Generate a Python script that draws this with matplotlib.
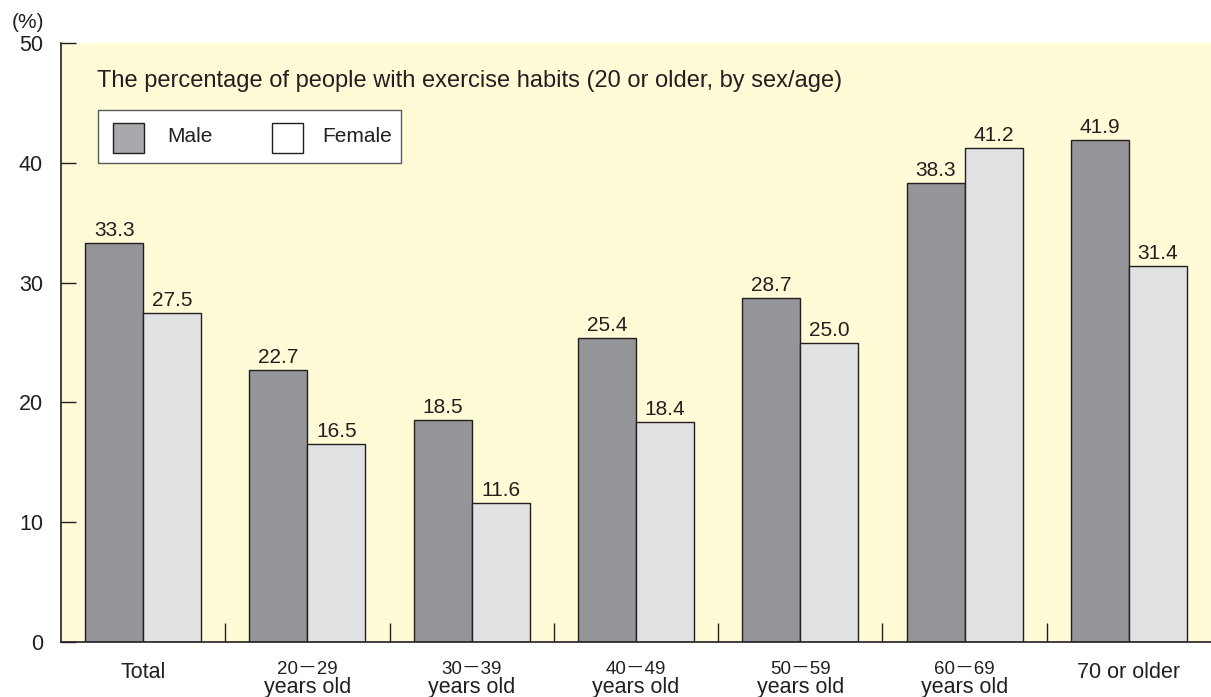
import matplotlib
matplotlib.use("Agg")
import matplotlib.pyplot as plt
import matplotlib.transforms as mtransforms
from matplotlib.patches import Rectangle
import numpy as np

plt.rcParams['font.family'] = ['Liberation Sans', 'DejaVu Sans', 'Noto Sans CJK JP']

categories_top = ["", "20－29", "30－39", "40－49", "50－59", "60－69", ""]
categories_bottom = ["Total", "years old", "years old", "years old", "years old", "years old", "70 or older"]
male = [33.3, 22.7, 18.5, 25.4, 28.7, 38.3, 41.9]
female = [27.5, 16.5, 11.6, 18.4, 25.0, 41.2, 31.4]
yticks = [0, 10, 20, 30, 40, 50]
title = "The percentage of people with exercise habits (20 or older, by sex/age)"

fig = plt.figure(figsize=(12.11, 6.97), dpi=100)
ax = fig.add_axes([61/1211, 55/697, 1150/1211, 599/697])
ax.set_facecolor('#FFFBD6')

x = np.arange(len(male))
w = 0.353
male_c = '#939598'
female_c = '#E1E2E4'
ax.bar(x - w/2, male, w, color=male_c, edgecolor='#231F20', linewidth=1.0)
ax.bar(x + w/2, female, w, color=female_c, edgecolor='#231F20', linewidth=1.0)

for xs, vals in ((x - w/2, male), (x + w/2, female)):
    for xi, v in zip(xs, vals):
        ax.annotate(f"{v:.1f}", (xi, v), xytext=(0, 5), textcoords='offset points',
                    ha='center', va='baseline', fontsize=15, color='#231F20')

ax.set_xlim(-0.5, len(male) - 0.5)
ax.set_ylim(0, 50)
ax.set_yticks(yticks)
ax.set_yticklabels([str(t) for t in yticks], fontsize=15.5, color='#231F20')
ax.tick_params(axis='y', direction='in', length=11, width=1, color='#231F20', pad=13)
ax.set_xticks(np.arange(0.5, len(male) - 0.5, 1.0))
ax.set_xticklabels([])
ax.tick_params(axis='x', direction='in', length=14, width=1, color='#231F20')

for s in ['top', 'right']:
    ax.spines[s].set_visible(False)
for s in ['left', 'bottom']:
    ax.spines[s].set_color('#231F20')
    ax.spines[s].set_linewidth(1.2)

trans = mtransforms.blended_transform_factory(ax.transData, fig.transFigure)
for xi, top, bot in zip(x, categories_top, categories_bottom):
    if top:
        ax.text(xi, 1 - 670/697, top, transform=trans, ha='center', va='center',
                fontsize=13.5, color='#231F20')
        ax.text(xi, 1 - 688/697, bot, transform=trans, ha='center', va='center',
                fontsize=15.5, color='#231F20')
    else:
        ax.text(xi, 1 - 672/697, bot, transform=trans, ha='center', va='center',
                fontsize=15.5, color='#231F20')

fig.text(97/1211, 1 - 87/697, title, ha='left', va='baseline', fontsize=17, color='#231F20')
fig.text(12/1211, 1 - 22/697, "(%)", ha='left', va='center', fontsize=15, color='#231F20')

# legend box
ft = fig.transFigure
def fr(px, py, pw, ph, **kw):
    return Rectangle((px/1211, 1 - (py + ph)/697), pw/1211, ph/697, transform=ft, **kw)
fig.patches.append(fr(98, 110, 303, 53, facecolor='white', edgecolor='#58595B', linewidth=1))
fig.patches.append(fr(113, 123, 31, 30, facecolor='#A7A9AC', edgecolor='#231F20', linewidth=1))
fig.patches.append(fr(272, 123, 31, 30, facecolor='white', edgecolor='#231F20', linewidth=1))
fig.text(167/1211, 1 - 137/697, "Male", ha='left', va='center', fontsize=15, color='#231F20')
fig.text(322/1211, 1 - 137/697, "Female", ha='left', va='center', fontsize=15, color='#231F20')

fig.savefig("out.png", dpi=100)
